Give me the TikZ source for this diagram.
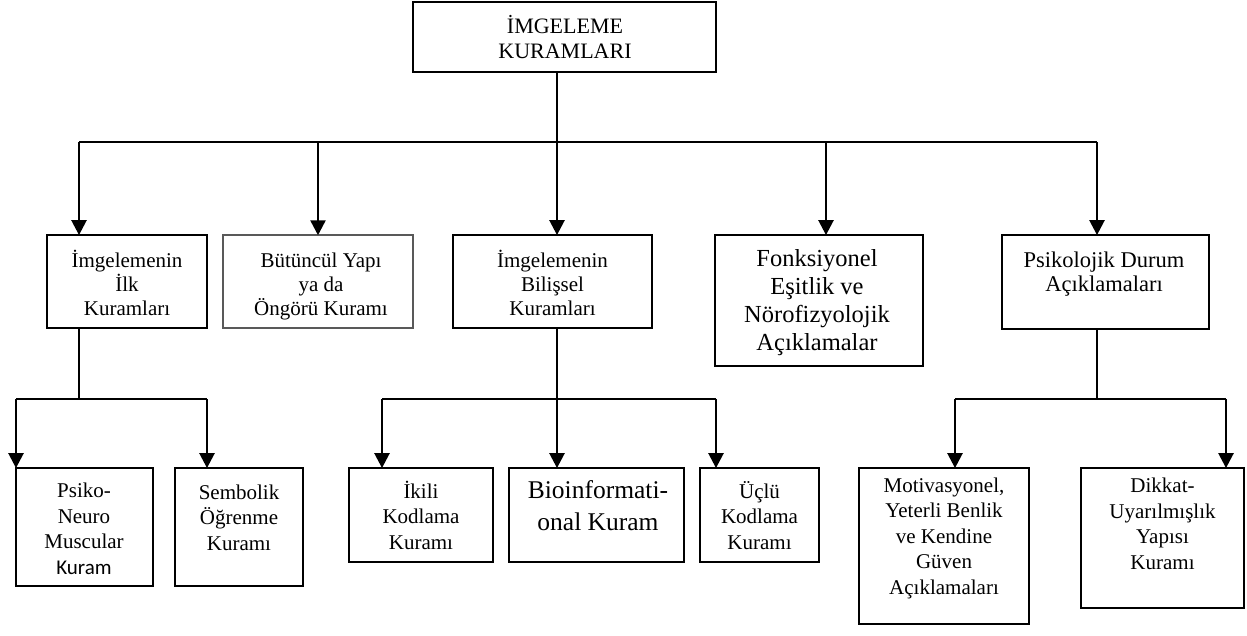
\documentclass[tikz,border=0pt]{standalone}
\usepackage{fontspec}
\setmainfont{Liberation Serif}
\newfontfamily\sanscal{Carlito}
\usetikzlibrary{arrows.meta}

\tikzset{
  box/.style={draw, line width=1.8pt, inner sep=0pt, rectangle},
  graybox/.style={box, draw=black!65, line width=1.5pt},
  % base anchor of a multi-line node sits on its last line
  txt/.style={align=center, inner sep=0pt, anchor=base},
  fnormal/.style={font=\fontsize{21}{24}\selectfont},
  fwide/.style={font=\fontsize{21}{25.5}\selectfont},
  ftop/.style={font=\fontsize{22}{25}\selectfont},
  fmid/.style={font=\fontsize{22.5}{24}\selectfont},
  fbig/.style={font=\fontsize{24.5}{27.7}\selectfont},
  fhuge/.style={font=\fontsize{25.5}{32}\selectfont},
  bus/.style={line width=1.3pt},
  busthick/.style={line width=2.5pt},
  stem/.style={line width=1.3pt},
  arr/.style={line width=2.5pt, -{Triangle[length=15pt,width=15pt]}, shorten >=-1pt},
}

\begin{document}
\begin{tikzpicture}[x=1pt, y=-1pt]
\useasboundingbox (0,0) rectangle (1247,635);

% ---- boxes ----
\node[box, minimum width=303, minimum height=70] (top) at (564.5,37) {};

\node[box, minimum width=160, minimum height=93] (b1) at (127,281.5) {};
\node[graybox, minimum width=190, minimum height=93] (b2) at (318,281.5) {};
\node[box, minimum width=199, minimum height=93] (b3) at (552.5,281.5) {};
\node[box, minimum width=208, minimum height=131] (b4) at (819,300.5) {};
\node[box, minimum width=207, minimum height=94] (b5) at (1105.5,282) {};

\node[box, minimum width=137, minimum height=118] (c1) at (84.5,527) {};
\node[box, minimum width=128, minimum height=118] (c2) at (239,527) {};
\node[box, minimum width=144, minimum height=94] (c3) at (421,515) {};
\node[box, minimum width=175, minimum height=94] (c4) at (596.5,515) {};
\node[box, minimum width=119, minimum height=94] (c5) at (759.5,515) {};
\node[box, minimum width=170, minimum height=156] (c6) at (944,546) {};
\node[box, minimum width=163, minimum height=140] (c7) at (1162.5,538) {};

% ---- texts (positioned by the baseline of the last line) ----
\node[txt, ftop] (ttop) at (565,58) {İMGELEME\\KURAMLARI};

\node[txt, fnormal] (tb1) at (127,315) {İmgelemenin\\İlk\\Kuramları};
\node[txt, fnormal] (tb2) at (321,315) {Bütüncül Yapı\\ya da\\Öngörü Kuramı};
\node[txt, fnormal] (tb3) at (552.5,315) {İmgelemenin\\Bilişsel\\Kuramları};
\node[txt, fbig] (tb4) at (817,350) {Fonksiyonel\\Eşitlik ve\\Nörofizyolojik\\Açıklamalar};
\node[txt, fmid] (tb5) at (1104,291) {Psikolojik Durum\\Açıklamaları};

\node[txt, fwide] (tc1) at (84,574) {Psiko-\\Neuro\\Muscular\\{\sanscal Kuram}};
\node[txt, fwide] (tc2) at (239,550) {Sembolik\\Öğrenme\\Kuramı};
\node[txt, fwide] (tc3) at (421,549) {İkili\\Kodlama\\Kuramı};
\node[txt, fhuge] (tc4) at (598,530) {Bioinformati-\\onal Kuram};
\node[txt, fwide] (tc5) at (759.5,549) {Üçlü\\Kodlama\\Kuramı};
\node[txt, fwide] (tc6) at (944,594) {Motivasyonel,\\Yeterli Benlik\\ve Kendine\\Güven\\Açıklamaları};
\node[txt, fwide] (tc7) at (1162.5,569) {Dikkat-\\Uyarılmışlık\\Yapısı\\Kuramı};

% ---- first level connectors ----
\coordinate (j0) at (557,142);
\coordinate (a1) at (79,142);
\coordinate (a2) at (318,142);
\coordinate (a4) at (826,142);
\coordinate (a5) at (1097,142);
\draw[stem] (top.south -| j0) -- (j0);
\draw[bus] (a1) -- (a5);
\draw[arr] (a1) -- (a1 |- b1.north);
\draw[arr] (a2) -- (a2 |- b2.north);
\draw[arr] (j0) -- (j0 |- b3.north);
\draw[arr] (a4) -- (a4 |- b4.north);
\draw[arr] (a5) -- (a5 |- b5.north);

% ---- second level: left group ----
\coordinate (l0) at (79,399);
\coordinate (l1) at (16,399);
\coordinate (l2) at (207,399);
\draw[stem] (b1.south -| l0) -- (l0);
\draw[busthick] (l1) -- (l2);
\draw[arr] (l1) -- (l1 |- c1.north);
\draw[arr] (l2) -- (l2 |- c2.north);

% ---- second level: middle group ----
\coordinate (m0) at (557,399);
\coordinate (m1) at (382,399);
\coordinate (m2) at (716,399);
\draw[stem] (b3.south -| m0) -- (m0);
\draw[busthick] (m1) -- (m2);
\draw[arr] (m1) -- (m1 |- c3.north);
\draw[arr] (m0) -- (m0 |- c4.north);
\draw[arr] (m2) -- (m2 |- c5.north);

% ---- second level: right group ----
\coordinate (r0) at (1097,399);
\coordinate (r1) at (955,399);
\coordinate (r2) at (1226,399);
\draw[stem] (b5.south -| r0) -- (r0);
\draw[busthick] (r1) -- (r2);
\draw[arr] (r1) -- (r1 |- c6.north);
\draw[arr] (r2) -- (r2 |- c7.north);
\end{tikzpicture}
\end{document}
